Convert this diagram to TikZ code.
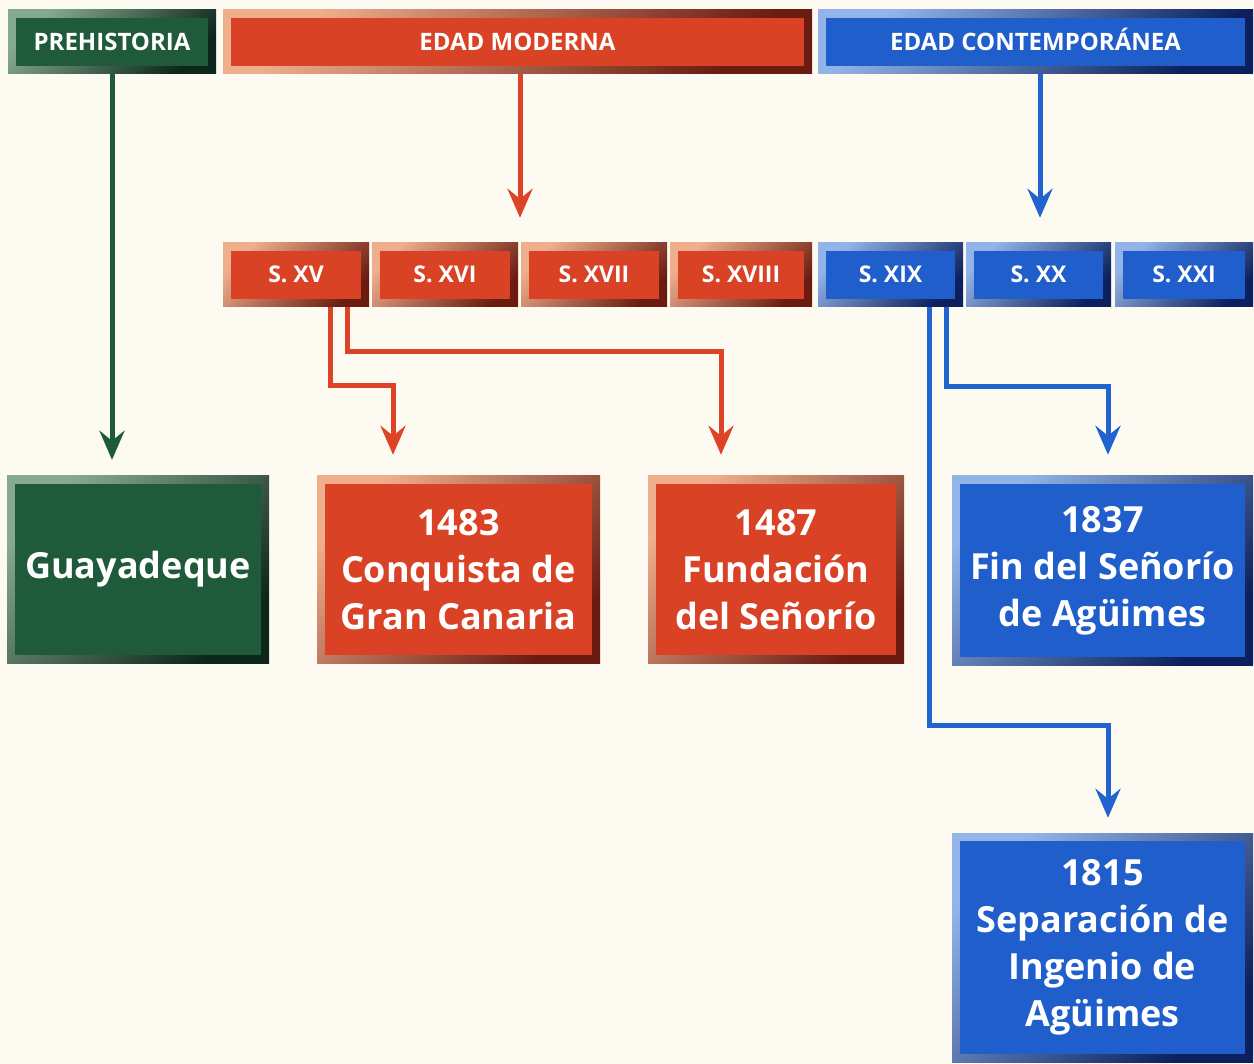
\documentclass[tikz,border=0pt]{standalone}
\usepackage{fontspec}
\setmainfont{Open Sans}
\usetikzlibrary{calc}
\usetikzlibrary{arrows.meta}
\definecolor{paper}{HTML}{FDFBF1}
\definecolor{greeninner}{HTML}{1F5A3A}
\definecolor{greenlight}{HTML}{86AA90}
\definecolor{greendark}{HTML}{0C261A}
\definecolor{redinner}{HTML}{DA4226}
\definecolor{redlight}{HTML}{EFAE8C}
\definecolor{reddark}{HTML}{6A1C10}
\definecolor{blueinner}{HTML}{1F5ECB}
\definecolor{bluelight}{HTML}{92B4E8}
\definecolor{bluedark}{HTML}{0B205C}
\definecolor{greenline}{HTML}{1D5A3C}
\definecolor{redline}{HTML}{DD4427}
\definecolor{blueline}{HTML}{2163CF}
\tikzset{>={Stealth[length=29pt,width=25pt,inset=10pt]}}
\tikzset{panel/.style n args={3}{rectangle, inner sep=0pt, text=white, top color=#1, bottom color=#2, shading angle=45,
    path picture={\fill[#3] ([shift={(8pt,-8pt)}]path picture bounding box.north west) rectangle ([shift={(-8pt,8pt)}]path picture bounding box.south east);}}}
\tikzset{greenpanel/.style={panel={greenlight}{greendark}{greeninner}}}
\tikzset{redpanel/.style={panel={redlight}{reddark}{redinner}}}
\tikzset{bluepanel/.style={panel={bluelight}{bluedark}{blueinner}}}
\tikzset{header/.style={minimum height=64pt, text height=17pt, text depth=0pt, font=\bfseries\fontsize{24}{28}\selectfont}}
\tikzset{century/.style={minimum height=64pt, text height=16pt, text depth=0pt, font=\bfseries\fontsize{23}{27}\selectfont}}
\tikzset{event/.style={align=center, font=\bfseries\fontsize{36}{47}\selectfont}}
\tikzset{link/.style={->, line width=5pt}}

\begin{document}
\begin{tikzpicture}[x=1pt, y=-1pt]

    % Background.
    \fill[paper] (0,0) rectangle (1254,1064);

    % Ages.
    \node [greenpanel, header, minimum width=208pt] (prehist) at (112,42) {PREHISTORIA};
    \node [redpanel, header, minimum width=589pt] (moderna) at (517.5,42) {EDAD MODERNA};
    \node [bluepanel, header, minimum width=435pt] (contemp) at (1035.5,42) {EDAD CONTEMPORÁNEA};

    % Centuries.
    \node [redpanel, century, minimum width=146pt] (sxv) at (296,275) {S. XV};
    \node [redpanel, century, minimum width=146pt] (sxvi) at (445,275) {S. XVI};
    \node [redpanel, century, minimum width=146pt] (sxvii) at (594,275) {S. XVII};
    \node [redpanel, century, minimum width=142pt] (sxviii) at (741,275) {S. XVIII};
    \node [bluepanel, century, minimum width=145pt] (sxix) at (890.5,275) {S. XIX};
    \node [bluepanel, century, minimum width=145pt] (sxx) at (1038.5,275) {S. XX};
    \node [bluepanel, century, minimum width=138pt] (sxxi) at (1184,275) {S. XXI};

    % Events.
    \node [greenpanel, event, minimum width=262pt, minimum height=187pt] (guaya) at (138,569.5) {Guayadeque};
    \node [redpanel, event, minimum width=283pt, minimum height=187pt] (conquista) at (458.5,569.5) {1483\\Conquista de\\Gran Canaria};
    \node [redpanel, event, minimum width=256pt, minimum height=187pt] (fundacion) at (776,569.5) {1487\\Fundación\\del Señorío};
    \node [bluepanel, event, minimum width=301pt, minimum height=189pt] (finsen) at (1102.5,570.5) {1837\\Fin del Señorío\\de Agüimes};
    \node [bluepanel, event, minimum width=301pt, minimum height=229pt] (separacion) at (1102.5,947.5) {1815\\Separación de\\Ingenio de\\Agüimes};

    % Lines from ages.
    \draw [link, greenline, shorten >=16pt] (prehist.south) -- (prehist.south |- guaya.north);
    \draw [link, redline, shorten >=25pt] ($(moderna.south)+(2.5,0)$) -- ($(moderna.south |- sxv.north)+(2.5,0)$);
    \draw [link, blueline, shorten >=25pt] ($(contemp.south)+(4.5,0)$) -- ($(contemp.south |- sxx.north)+(4.5,0)$);

    % Lines from centuries to events.
    \draw [link, redline, shorten >=21pt] ($(sxv.south)+(34,0)$) -- ++(0,78) -| ($(conquista.north)+(-65.5,0)$);
    \draw [link, redline, shorten >=21pt] ($(sxv.south)+(51,0)$) -- ++(0,44) -| ($(fundacion.north)+(-55,0)$);
    \draw [link, blueline, shorten >=21pt] ($(sxix.south)+(55.5,0)$) -- ++(0,79) -| ($(finsen.north)+(5.5,0)$);
    \draw [link, blueline, shorten >=15pt] ($(sxix.south)+(38.5,0)$) -- ++(0,418) -| ($(separacion.north)+(5.5,0)$);

\end{tikzpicture}
\end{document}
